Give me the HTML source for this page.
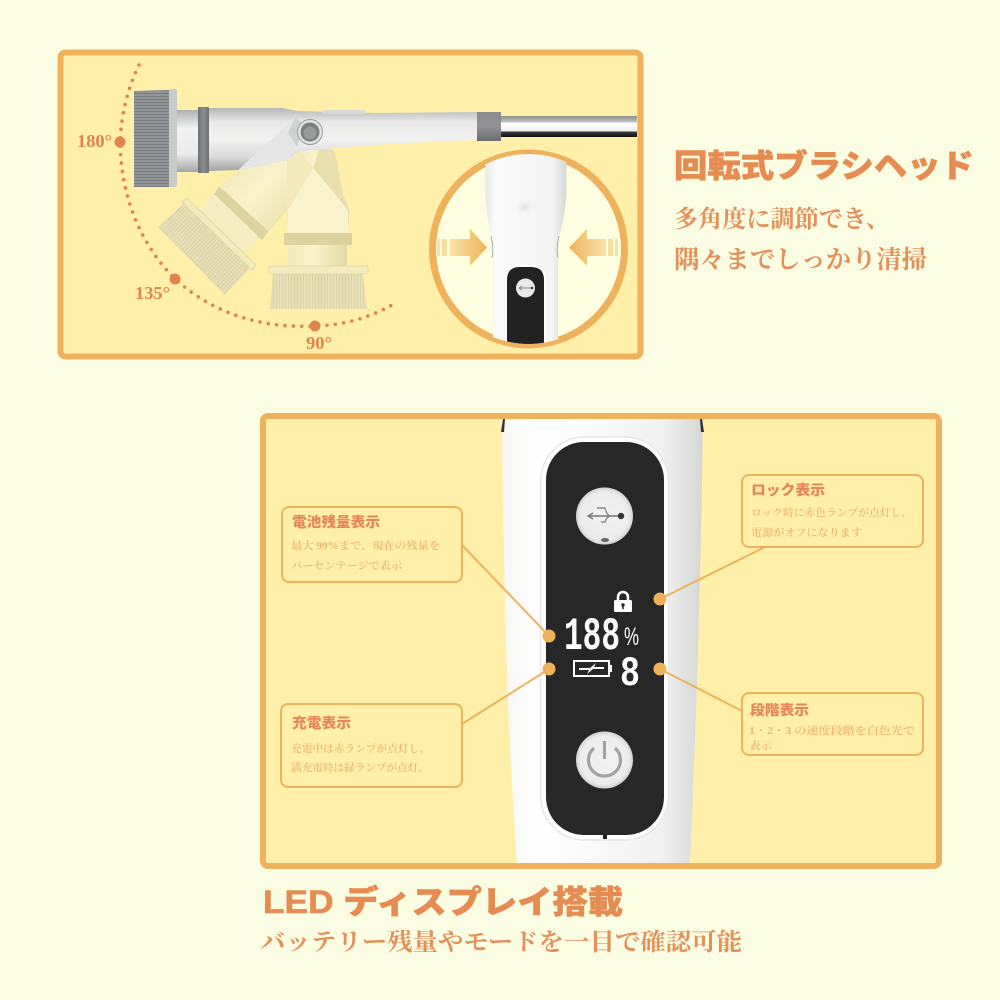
<!DOCTYPE html>
<html lang="ja"><head><meta charset="utf-8"><title>回転式ブラシヘッド</title>
<style>
html,body{margin:0;padding:0;background:#FBFDE3}
svg{display:block;width:1000px;height:1000px}
.h{font-family:"Liberation Sans","Noto Sans CJK JP",sans-serif;font-weight:900;fill:#E68B52;stroke:#E68B52;stroke-width:.6}
.s{font-family:"Liberation Serif","Noto Serif CJK SC",serif;font-weight:700;fill:#E3905A}
.deg{font-family:"Liberation Serif","Noto Serif CJK SC",serif;font-weight:700;font-size:18px;fill:#E0844D}
.ct{font-family:"Liberation Sans","Noto Sans CJK JP",sans-serif;font-weight:900;font-size:14px;fill:#E5865A}
.cb{font-family:"Liberation Serif","Noto Serif CJK SC",serif;font-weight:600;font-size:10.5px;fill:#EDB572}
.box{fill:none;stroke:#EFB25C;stroke-width:2}
.ln{fill:none;stroke:#EFB25C;stroke-width:2}
</style></head><body>
<svg xmlns="http://www.w3.org/2000/svg" viewBox="0 0 1000 1000">
<defs>
<linearGradient id="bodyG" x1="0" y1="0" x2="0" y2="1"><stop offset="0" stop-color="#b4b6b6"/><stop offset=".22" stop-color="#e8e8e8"/><stop offset=".5" stop-color="#f2f2f1"/><stop offset=".78" stop-color="#d8d9d9"/><stop offset="1" stop-color="#a2a4a4"/></linearGradient>
<linearGradient id="neckG" x1="0" y1="0" x2="0" y2="1"><stop offset="0" stop-color="#aeb0b0"/><stop offset=".3" stop-color="#f2f2f2"/><stop offset=".7" stop-color="#ececec"/><stop offset="1" stop-color="#a4a6a6"/></linearGradient>
<linearGradient id="ringG" x1="0" y1="0" x2="1" y2="0"><stop offset="0" stop-color="#6e7071"/><stop offset=".5" stop-color="#8b8d8e"/><stop offset="1" stop-color="#6e7071"/></linearGradient>
<linearGradient id="ring2G" x1="0" y1="0" x2="0" y2="1"><stop offset="0" stop-color="#8a8c8d"/><stop offset=".5" stop-color="#8f9192"/><stop offset="1" stop-color="#6b6d6e"/></linearGradient>
<linearGradient id="rodG" x1="0" y1="0" x2="0" y2="1"><stop offset="0" stop-color="#8e9090"/><stop offset=".25" stop-color="#b8baba"/><stop offset=".36" stop-color="#ffffff"/><stop offset=".7" stop-color="#f0f0f0"/><stop offset=".78" stop-color="#333"/><stop offset="1" stop-color="#111"/></linearGradient>
<linearGradient id="creamV" x1="0" y1="0" x2="1" y2="0"><stop offset="0" stop-color="#F3E9BC"/><stop offset=".45" stop-color="#FBF2CB"/><stop offset="1" stop-color="#E4D8A6"/></linearGradient>
<linearGradient id="creamD" x1="0" y1="0" x2="1" y2="1"><stop offset="0" stop-color="#F0E6B8"/><stop offset=".5" stop-color="#FAF2CC"/><stop offset="1" stop-color="#E9DEAC"/></linearGradient>
<linearGradient id="arrL" x1="0" y1="0" x2="1" y2="0"><stop offset="0" stop-color="#FAE3A6"/><stop offset="1" stop-color="#EFB25C"/></linearGradient>
<linearGradient id="arrR" x1="1" y1="0" x2="0" y2="0"><stop offset="0" stop-color="#FAE3A6"/><stop offset="1" stop-color="#EFB25C"/></linearGradient>
<linearGradient id="hand" x1="0" y1="0" x2="1" y2="0"><stop offset="0" stop-color="#f6f6f5"/><stop offset=".2" stop-color="#ffffff"/><stop offset=".8" stop-color="#f0f1f0"/><stop offset="1" stop-color="#d4d6d4"/></linearGradient>
<linearGradient id="insG" x1="0" y1="0" x2="1" y2="0"><stop offset="0" stop-color="#e8e9e7"/><stop offset=".12" stop-color="#fafafa"/><stop offset=".82" stop-color="#f4f4f4"/><stop offset="1" stop-color="#d6d8d6"/></linearGradient>
<radialGradient id="btn" cx=".5" cy=".5" r=".5"><stop offset="0" stop-color="#f2f2f2"/><stop offset=".85" stop-color="#ececec"/><stop offset="1" stop-color="#d2d2d2"/></radialGradient>
<radialGradient id="dent" cx=".5" cy=".5" r=".5"><stop offset="0" stop-color="#e2e2e2"/><stop offset="1" stop-color="#f6f6f6" stop-opacity="0"/></radialGradient>
<pattern id="brGrey" width="6" height="3" patternUnits="userSpaceOnUse"><rect width="6" height="3" fill="#929598"/><rect width="6" height="1" fill="#7a7d80"/></pattern>
<pattern id="brV" width="3" height="6" patternUnits="userSpaceOnUse"><rect width="3" height="6" fill="#E8DFB6"/><rect width="1" height="6" fill="#DBD2A8"/></pattern>
<pattern id="brD" width="3" height="6" patternUnits="userSpaceOnUse" patternTransform="rotate(43)"><rect width="3" height="6" fill="#E8DFB6"/><rect width="1" height="6" fill="#DBD2A8"/></pattern>
<clipPath id="insClip"><circle cx="528.5" cy="249" r="95"/></clipPath>
</defs>

<rect width="1000" height="1000" fill="#FBFDE3"/>

<!-- top panel -->
<rect x="60.5" y="52.5" width="580" height="304" rx="5" fill="#FFEFA8" stroke="#EFB25C" stroke-width="6"/>

<!-- dotted arc -->
<path d="M139 65 Q122 100 120 142 Q122 225 175 279 Q232 330 315 326 Q356 325 392 305" fill="none" stroke="#E0844D" stroke-width="3.6" stroke-linecap="round" stroke-dasharray="0 8.4"/>
<circle cx="120" cy="142" r="5.5" fill="#E0844D"/>
<circle cx="175" cy="279" r="5.5" fill="#E0844D"/>
<circle cx="315" cy="326" r="5.5" fill="#E0844D"/>
<text class="deg" x="77" y="147" textLength="35" lengthAdjust="spacingAndGlyphs">180°</text>
<text class="deg" x="135" y="299" textLength="35" lengthAdjust="spacingAndGlyphs">135°</text>
<text class="deg" x="306" y="349" textLength="26" lengthAdjust="spacingAndGlyphs">90°</text>

<!-- cream 135 brush -->
<polygon points="238,170 287,160 287,210 268,233 220,187" fill="url(#creamD)"/>
<polygon points="214,193 199,212 237,256 262,238" fill="#F6EDC2"/>
<polygon points="219,186 268,231 262,240 214,194" fill="#DFD3A2"/>
<polygon points="187,198 256,265 252,270 182,202" fill="#F3EABD" stroke="#E0D5A5" stroke-width=".8"/>
<polygon points="184,203 250,268 225,295 158,227" fill="url(#brD)"/>
<polygon points="187,198 256,265 252,270 182,202" fill="#F3EABD" stroke="#E0D5A5" stroke-width=".8"/>
<!-- cream 90 brush -->
<polygon points="298,147 322,142 335,152 343,195 349,210 349,233 287,233 287,160" fill="url(#creamV)"/>
<polygon points="288,210 313,168 348,210 349,233 287,233" fill="#FAF2CC"/>
<polygon points="298,147 313,168 288,210 287,160" fill="#F3E9BD"/>
<polygon points="335,152 343,195 349,210 313,168 322,142" fill="#E9DEAE"/>
<rect x="284" y="233" width="68" height="12" fill="#DDD1A0"/>
<rect x="288" y="245" width="59" height="21" fill="url(#creamV)"/>
<polygon points="273,274 363,274 367,309 270,309" fill="url(#brV)"/>
<rect x="269" y="266" width="99" height="8" rx="2" fill="#F3EABF" stroke="#E0D5A5" stroke-width=".8"/>

<!-- grey brush -->
<polygon points="134,91 169,90 169,187 134,187" fill="url(#brGrey)"/>
<rect x="169" y="89" width="8" height="98" rx="2" fill="#c8caca"/>
<rect x="177" y="110" width="21" height="62" fill="url(#neckG)"/>
<polygon points="209,108 282,108 298,111 375,113 477,112 477,140 405,143 375,145 335,148 297,152 287,160 238,170 209,171" fill="url(#bodyG)"/>
<polygon points="295,118 238,170 288,160 297,147 288,133" fill="#e4e5e4"/>
<polygon points="295,118 288,133 297,147 305,125" fill="#cfd0d0"/>
<rect x="198" y="107" width="11" height="66" rx="1" fill="url(#ringG)"/>
<rect x="323" y="110" width="42" height="4" rx="2" fill="#d8d9d8"/>
<rect x="477" y="112" width="24" height="29" fill="url(#ring2G)"/>
<rect x="501" y="116" width="136" height="21" fill="url(#rodG)"/>
<circle cx="310" cy="132" r="12.5" fill="#e2e3e2" stroke="#9a9c9c" stroke-width="1"/>
<circle cx="310" cy="132" r="9.5" fill="#7d8080"/>
<circle cx="310" cy="133" r="6.5" fill="#999b9b"/>

<!-- inset -->
<circle cx="528.5" cy="249" r="96" fill="#FDFDE0" stroke="#EFB25C" stroke-width="7"/>
<g clip-path="url(#insClip)">
<path d="M485.5 150 H566.5 V193 Q565 218 559 236 Q556 247 558 258 L558 350 H493 L493 258 Q495 247 492 236 Q486 218 485.5 193 Z" fill="url(#insG)"/>
<ellipse cx="525" cy="207" rx="12" ry="10" fill="url(#dent)"/>
<path d="M491 236 Q494 247 492 258 M559 236 Q556 247 558 258" fill="none" stroke="#a8aaa8" stroke-width="1"/>
<path d="M505 350 V280 Q505 265 520 265 H531 Q546 265 546 280 V350 Z" fill="#fff"/>
<path d="M507 350 V280 Q507 267 520 267 H531 Q544 267 544 280 V350 Z" fill="#222"/>
<circle cx="525.5" cy="288" r="9.5" fill="#e8e8e8"/>
<path d="M519 288 H531 M522 286 L519 288 L522 290" fill="none" stroke="#888" stroke-width="1"/>
<circle cx="532" cy="288" r="1.2" fill="#333"/>
</g>
<!-- arrows -->
<rect x="437" y="239" width="3" height="17" fill="#F9E2A8"/>
<rect x="442" y="239" width="5" height="17" fill="#F8DD9E"/>
<polygon points="450,239 470,239 470,229 487,247.5 470,266 470,256 450,256" fill="url(#arrL)"/>
<rect x="615" y="239" width="3" height="17" fill="#F9E2A8"/>
<rect x="608" y="239" width="5" height="17" fill="#F8DD9E"/>
<polygon points="606,239 587,239 587,229 569,247.5 587,266 587,256 606,256" fill="url(#arrR)"/>

<!-- right top text -->
<text class="h" x="674" y="177" font-size="32" textLength="300" lengthAdjust="spacingAndGlyphs">回転式ブラシヘッド</text>
<text class="s" x="674" y="227" font-size="24" textLength="216" lengthAdjust="spacingAndGlyphs">多角度に調節でき、</text>
<text class="s" x="674" y="268" font-size="25" textLength="253" lengthAdjust="spacingAndGlyphs">隅々までしっかり清掃</text>

<!-- bottom panel -->
<rect x="263" y="416" width="676" height="450" rx="5" fill="#FFEFA8" stroke="#EFB25C" stroke-width="6"/>
<path d="M502 419 Q503 520 505 600 Q508 740 517 863 H690 Q700 640 703 419 Z" fill="url(#hand)"/>
<path d="M503 419 L501 432 L504 432 L505 419 Z M702 419 L704 432 L701 432 L700 419 Z" fill="#333"/>
<rect x="540.5" y="437" width="128" height="403" rx="44" fill="#fff" stroke="#e6e7e6" stroke-width="1.5"/>
<rect x="546" y="442" width="118" height="393" rx="38" fill="#272727"/>
<rect x="603" y="835" width="4" height="4" fill="#222"/>

<!-- USB button -->
<circle cx="604.5" cy="516" r="28.5" fill="url(#btn)"/>
<path d="M588 516 H622" stroke="#777" stroke-width="1.6" fill="none"/>
<path d="M593 513 L588 516 L593 519" stroke="#777" stroke-width="1.4" fill="none"/>
<path d="M597 508 H605 Q607 516 611 516 Q607 516 605 522 H601" stroke="#8a8a8a" stroke-width="1.4" fill="none"/>
<circle cx="621" cy="516" r="3.2" fill="#333"/>
<ellipse cx="605" cy="540" rx="4" ry="2" fill="#666"/>

<!-- power button -->
<circle cx="604.5" cy="760" r="28.5" fill="url(#btn)"/>
<path d="M594 748 A16 16 0 1 0 615 748" fill="none" stroke="#a2a2a2" stroke-width="3.2"/>
<rect x="603" y="741" width="3" height="18" fill="#a2a2a2"/>

<!-- display -->
<g fill="#fff">
<rect x="614" y="600" width="18" height="12" rx="1.5"/>
<path d="M618 600 V597 A5 5 0 0 1 628 597 V600" fill="none" stroke="#fff" stroke-width="2.6"/>
<circle cx="623" cy="605" r="1.7" fill="#272727"/>
<rect x="622.2" y="605" width="1.6" height="4" fill="#272727"/>
<text x="564" y="649" font-family="'Liberation Mono',monospace" font-weight="700" font-size="46" textLength="56" lengthAdjust="spacingAndGlyphs">188</text>
<text x="624" y="645" font-family="'Liberation Sans',sans-serif" font-size="25" textLength="15" lengthAdjust="spacingAndGlyphs">%</text>
<text x="620" y="685" font-family="'Liberation Mono',monospace" font-weight="700" font-size="42" textLength="20" lengthAdjust="spacingAndGlyphs">8</text>
<rect x="574" y="661" width="35" height="15" fill="none" stroke="#fff" stroke-width="2"/>
<rect x="609" y="665" width="3" height="7"/>
<polygon points="579,668 590,668 596,663 594,667 604,667 604,669 593,669 587,674 589,670 579,670"/>
</g>

<!-- connectors -->
<path class="ln" d="M462 545 L549 636"/>
<path class="ln" d="M462 724 L549 669"/>
<path class="ln" d="M765 547 L660 599"/>
<path class="ln" d="M742 711 L660 669"/>
<circle cx="549" cy="636" r="6.5" fill="#EFB25C"/>
<circle cx="549" cy="669" r="6.5" fill="#EFB25C"/>
<circle cx="660" cy="599" r="6.5" fill="#EFB25C"/>
<circle cx="660" cy="669" r="6.5" fill="#EFB25C"/>

<!-- callouts -->
<rect class="box" x="282" y="507" width="180" height="75" rx="7"/>
<text class="ct" x="292" y="527" textLength="88" lengthAdjust="spacingAndGlyphs">電池残量表示</text>
<text class="cb" x="291" y="549" textLength="149" lengthAdjust="spacingAndGlyphs">最大 99%まで、現在の残量を</text>
<text class="cb" x="291" y="569" textLength="111" lengthAdjust="spacingAndGlyphs">パーセンテージで表示</text>

<rect class="box" x="281" y="704" width="181" height="83" rx="7"/>
<text class="ct" x="292" y="728" textLength="59" lengthAdjust="spacingAndGlyphs">充電表示</text>
<text class="cb" x="291" y="752" textLength="139" lengthAdjust="spacingAndGlyphs">充電中は赤ランプが点灯し、</text>
<text class="cb" x="291" y="771" textLength="138" lengthAdjust="spacingAndGlyphs">満充電時は緑ランプが点灯。</text>

<rect class="box" x="742" y="475" width="181" height="72" rx="7"/>
<text class="ct" x="751" y="495" textLength="74" lengthAdjust="spacingAndGlyphs">ロック表示</text>
<text class="cb" x="751" y="516" textLength="161" lengthAdjust="spacingAndGlyphs">ロック時に赤色ランプが点灯し、</text>
<text class="cb" x="751" y="536" textLength="111" lengthAdjust="spacingAndGlyphs">電源がオフになります</text>

<rect class="box" x="742" y="693" width="181" height="62" rx="7"/>
<text class="ct" x="750" y="715" textLength="59" lengthAdjust="spacingAndGlyphs">段階表示</text>
<text class="cb" x="749" y="734" textLength="166" lengthAdjust="spacingAndGlyphs">1・2・3 の速度段階を白色光で</text>
<text class="cb" x="749" y="749" textLength="23" lengthAdjust="spacingAndGlyphs">表示</text>

<!-- bottom text -->
<text class="h" x="263" y="913" font-size="32" textLength="360" lengthAdjust="spacingAndGlyphs">LED ディスプレイ搭載</text>
<text class="s" x="260" y="950" font-size="24" textLength="482" lengthAdjust="spacingAndGlyphs">バッテリー残量やモードを一目で確認可能</text>
</svg>
</body></html>
